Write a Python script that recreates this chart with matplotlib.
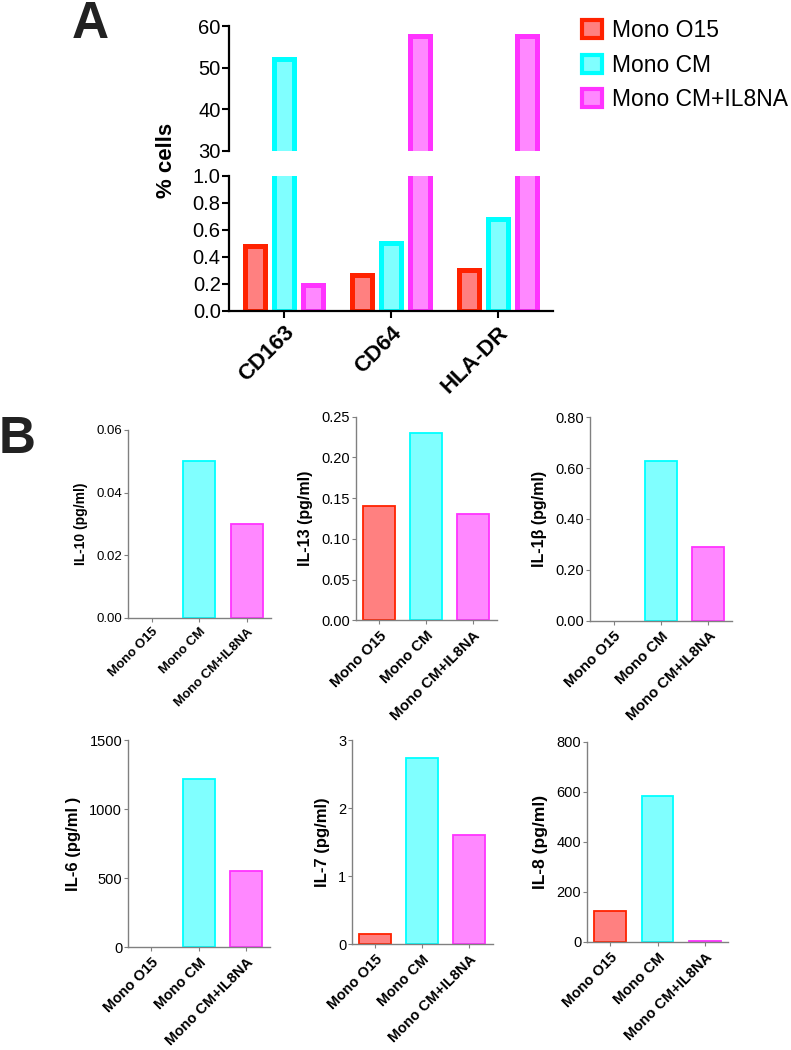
import numpy as np
import matplotlib
matplotlib.use('Agg')
import matplotlib.pyplot as plt
from matplotlib.patches import Patch

plt.rcParams['font.family'] = ['Liberation Sans', 'DejaVu Sans']

# 数据
series_names = ['Mono O15', 'Mono CM', 'Mono CM+IL8NA']
edge_colors = ['#ff2200', '#00ffff', '#ff33ff']
fill_colors = ['#ff8080', '#80ffff', '#ff88ff']

# A: 表面标志物 % cells
markers_a = ['CD163', 'CD64', 'HLA-DR']
mono_o15_a = [0.48, 0.27, 0.30]
mono_cm_a = [52.0, 0.50, 0.68]
mono_cm_il8na_a = [0.19, 57.5, 57.5]

# B: 细胞因子
cyto_labels = ['IL-10 (pg/ml)', 'IL-13 (pg/ml)', 'IL-1β (pg/ml)',
               'IL-6 (pg/ml )', 'IL-7 (pg/ml)', 'IL-8 (pg/ml)']
il10 = [0.0, 0.05, 0.03]
il13 = [0.14, 0.23, 0.13]
il1b = [0.0, 0.63, 0.29]
il6 = [0.0, 1220, 555]
il7 = [0.15, 2.73, 1.61]
il8 = [124, 582, 3]
cyto_values = [il10, il13, il1b, il6, il7, il8]
cyto_ticks = [[0, 0.02, 0.04, 0.06],
              [0, 0.05, 0.10, 0.15, 0.20, 0.25],
              [0, 0.2, 0.4, 0.6, 0.8],
              [0, 500, 1000, 1500],
              [0, 1, 2, 3],
              [0, 200, 400, 600, 800]]
cyto_fmt = ['{:.2f}', '{:.2f}', '{:.2f}', '{:.0f}', '{:.0f}', '{:.0f}']

W, H = 791, 1050
fig = plt.figure(figsize=(W / 100, H / 100), dpi=100)


def px_axes(left, top, right, bottom):
    return fig.add_axes([left / W, 1 - bottom / H, (right - left) / W, (bottom - top) / H])


# ---------- Panel A (断轴) ----------
ax_top = px_axes(229, 26, 553, 151)
ax_bot = px_axes(229, 176, 553, 311)
x = np.arange(len(markers_a))
a_series = [mono_o15_a, mono_cm_a, mono_cm_il8na_a]
bw = 0.18
for ax in (ax_top, ax_bot):
    for i, vals in enumerate(a_series):
        ax.bar(x + (i - 1) * 0.27, vals, width=bw, color=fill_colors[i],
               edgecolor=edge_colors[i], linewidth=3.6)
    ax.set_xlim(-0.514, 2.514)
    for s in ['top', 'right']:
        ax.spines[s].set_visible(False)
    ax.spines['left'].set_linewidth(1.6)
    ax.spines['bottom'].set_linewidth(1.6)
    ax.tick_params(axis='both', direction='out', length=5, width=1.5,
                   labelsize=14.5, pad=1)

ax_top.set_ylim(30, 60)
ax_top.set_yticks([30, 40, 50, 60])
ax_top.spines['bottom'].set_visible(False)
ax_top.set_xticks([])

ax_bot.set_ylim(0, 1.0)
ax_bot.set_yticks(np.arange(0, 1.01, 0.2))
ax_bot.set_yticklabels(['{:.1f}'.format(v) for v in np.arange(0, 1.01, 0.2)])
ax_bot.set_xticks(x)
ax_bot.set_xticklabels(markers_a, rotation=45, ha='right', rotation_mode='anchor',
                       fontsize=16, fontweight='bold')
ax_bot.tick_params(axis='x', pad=3)

fig.text(166 / W, 1 - 160 / H, '% cells', rotation=90, ha='center', va='center',
         fontsize=16, fontweight='bold')
fig.text(72 / W, 1 - 38 / H, 'A', fontsize=37, fontweight='bold', color='#222222',
         ha='left', va='baseline')
fig.text(-1 / W, 1 - 453 / H, 'B', fontsize=37, fontweight='bold', color='#222222',
         ha='left', va='baseline')

handles = [Patch(facecolor=fill_colors[i], edgecolor=edge_colors[i], linewidth=3)
           for i in range(3)]
fig.legend(handles, series_names, loc='upper left', bbox_to_anchor=(573 / W, 1 - 10 / H),
           frameon=False, fontsize=16.5, handlelength=0.85, handleheight=0.85,
           handletextpad=0.45, labelspacing=0.5, borderaxespad=0)

# ---------- Panel B ----------
b_boxes = [(127.7, 430, 271, 617.7),
           (355.7, 416.7, 496.7, 620.3),
           (590, 417.3, 732, 620.7),
           (127.7, 740, 270, 947.3),
           (351.7, 740, 492.7, 944),
           (586.7, 741.7, 728.3, 941.7)]
tick_fs = [9.5, 10.5, 10.5, 10.5, 10.5, 10.5]
xlab_fs = [9.5, 10.8, 10.8, 10.5, 10.5, 10.5]
ylab_fs = [10, 11.5, 11.5, 12, 12, 12.5]

for k, box in enumerate(b_boxes):
    ax = px_axes(*box)
    vals = cyto_values[k]
    lws = [1.3 if v > 0 else 0 for v in vals]
    ax.bar(np.arange(3), vals, width=0.67, color=fill_colors, edgecolor=edge_colors,
           linewidth=lws)
    ax.set_xlim(-0.5, 2.5)
    ticks = cyto_ticks[k]
    ax.set_ylim(0, ticks[-1])
    ax.set_yticks(ticks)
    ax.set_yticklabels([cyto_fmt[k].format(t) for t in ticks])
    ax.set_xticks(np.arange(3))
    ax.set_xticklabels(series_names, rotation=45, ha='right', rotation_mode='anchor',
                       fontsize=xlab_fs[k], fontweight='bold')
    for s in ['top', 'right']:
        ax.spines[s].set_visible(False)
    for s in ['left', 'bottom']:
        ax.spines[s].set_color('#808080')
        ax.spines[s].set_linewidth(1.0)
    ax.tick_params(axis='both', direction='out', length=3, width=0.8, color='#808080',
                   pad=1)
    ax.tick_params(axis='y', labelsize=tick_fs[k])
    ax.tick_params(axis='x', pad=3)
    ax.set_ylabel(cyto_labels[k], fontsize=ylab_fs[k], fontweight='bold', labelpad=6)

plt.savefig('out.png', dpi=100)
